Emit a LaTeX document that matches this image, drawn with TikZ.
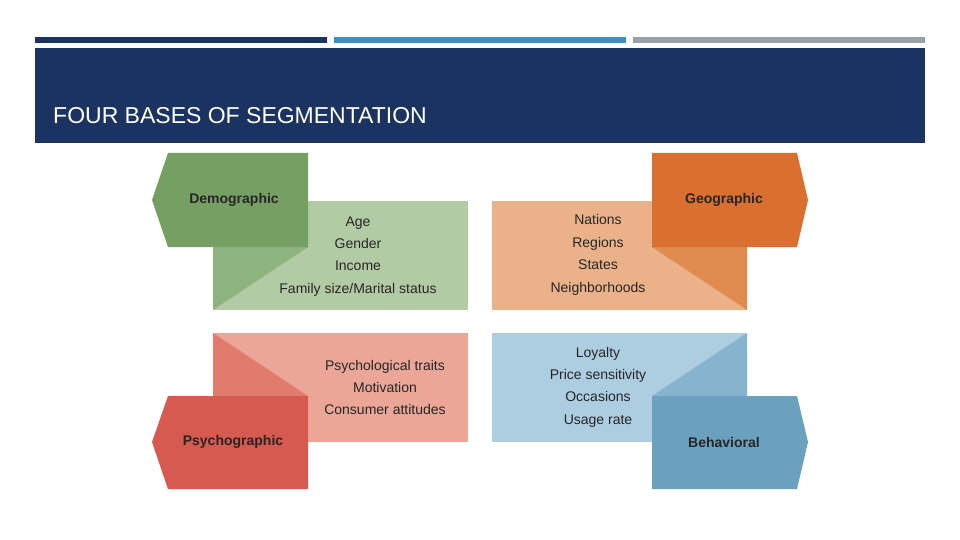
\documentclass[tikz,border=0pt]{standalone}
\usepackage{fontspec}
\setmainfont{Liberation Sans}
\begin{document}
\begin{tikzpicture}[x=1pt,y=-1pt,
  item/.style={font=\fontsize{14}{16}\selectfont,text=black!85,inner sep=0pt,anchor=base},
  tag/.style={font=\bfseries\fontsize{14}{16}\selectfont,text=black!85,inner sep=0pt}]
\definecolor{navy}{HTML}{1B3360}
\definecolor{midblue}{HTML}{3E8EBF}
\definecolor{greybar}{HTML}{9AA0A8}
\definecolor{gA}{HTML}{76A063}\definecolor{gB}{HTML}{B3CBA5}\definecolor{gC}{HTML}{8FB37E}
\definecolor{oA}{HTML}{D9702F}\definecolor{oB}{HTML}{EBB28A}\definecolor{oC}{HTML}{E08C50}
\definecolor{rA}{HTML}{D65A4F}\definecolor{rB}{HTML}{EBA698}\definecolor{rC}{HTML}{E07B6E}
\definecolor{bA}{HTML}{6AA1BF}\definecolor{bB}{HTML}{ADCDE0}\definecolor{bC}{HTML}{86B4CE}
\useasboundingbox[fill=white] (0,0) rectangle (960,540);
% top bars
\fill[navy] (35,37) rectangle (327,43);
\fill[midblue] (334,37) rectangle (626,43);
\fill[greybar] (633,37) rectangle (925,43);
\fill[navy] (35,48) rectangle (925,143);
\node[anchor=base west,text=white,font=\fontsize{23}{26}\selectfont,inner sep=0pt] (title) at (53,124) {FOUR BASES OF SEGMENTATION};
% Demographic
\fill[gB] (213,201) rectangle (468,310);
\fill[gC] (213,247) -- (308,247) -- (213,310) -- cycle;
\fill[gA] (152,200) -- (168,153) -- (308,153) -- (308,247) -- (168,247) -- cycle;
\node[tag] (demo) at (234,200) {Demographic};
\node[item] (d1) at (358,226) {Age};
\node[item] (d2) at (358,248) {Gender};
\node[item] (d3) at (358,270) {Income};
\node[item] (d4) at (358,293) {Family size/Marital status};
% Geographic
\fill[oB] (492,201) rectangle (747,310);
\fill[oC] (652,247) -- (747,247) -- (747,310) -- cycle;
\fill[oA] (808,200) -- (797,153) -- (652,153) -- (652,247) -- (797,247) -- cycle;
\node[tag] (geo) at (724,200) {Geographic};
\node[item] (g1) at (598,224) {Nations};
\node[item] (g2) at (598,247) {Regions};
\node[item] (g3) at (598,269) {States};
\node[item] (g4) at (598,292) {Neighborhoods};
% Psychographic
\fill[rB] (213,333) rectangle (468,442);
\fill[rC] (213,333) -- (308,396) -- (213,396) -- cycle;
\fill[rA] (152,442) -- (168,396) -- (308,396) -- (308,489) -- (168,489) -- cycle;
\node[tag] (psy) at (233,442) {Psychographic};
\node[item] (p1) at (385,370) {Psychological traits};
\node[item] (p2) at (385,392) {Motivation};
\node[item] (p3) at (385,414) {Consumer attitudes};
% Behavioral
\fill[bB] (492,333) rectangle (747,442);
\fill[bC] (747,333) -- (747,396) -- (652,396) -- cycle;
\fill[bA] (808,442) -- (797,396) -- (652,396) -- (652,489) -- (797,489) -- cycle;
\node[tag] (beh) at (724,442) {Behavioral};
\node[item] (b1) at (598,357) {Loyalty};
\node[item] (b2) at (598,379) {Price sensitivity};
\node[item] (b3) at (598,401) {Occasions};
\node[item] (b4) at (598,424) {Usage rate};
\end{tikzpicture}
\end{document}
